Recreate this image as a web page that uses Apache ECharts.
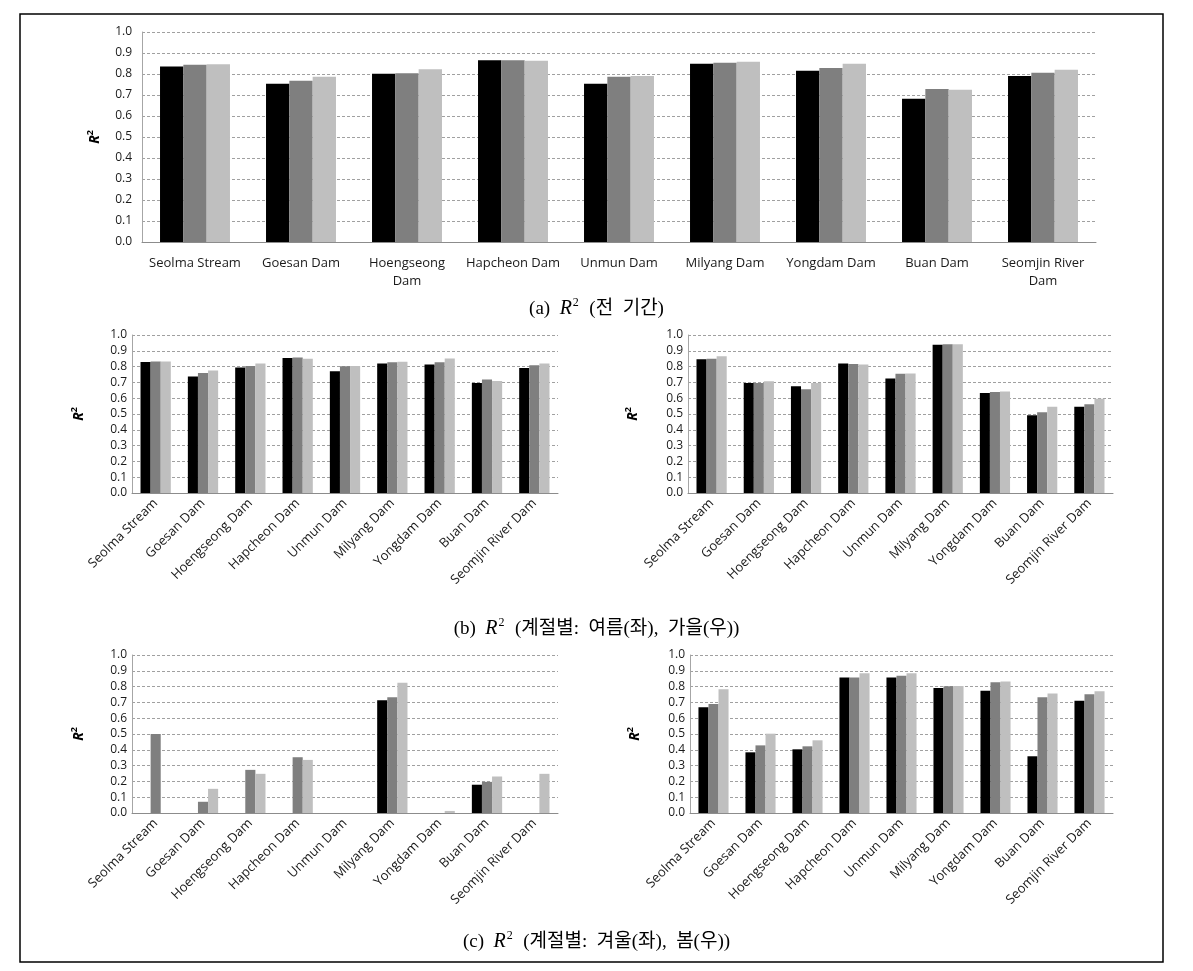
<!DOCTYPE html>
<html>
<head>
<meta charset="utf-8">
<script src="https://cdn.jsdelivr.net/npm/echarts@6/dist/echarts.min.js"></script>
<style>
html,body{margin:0;padding:0;background:#fff;}
#c{width:1193px;height:971px;}
</style>
</head>
<body>
<div id="c"></div>
<script>
// ---------- data ----------
const categories = ['Seolma Stream','Goesan Dam','Hoengseong Dam','Hapcheon Dam','Unmun Dam','Milyang Dam','Yongdam Dam','Buan Dam','Seomjin River Dam'];
const yTicks = [0,0.1,0.2,0.3,0.4,0.5,0.6,0.7,0.8,0.9,1.0];
// (a) whole period
const allS1 = [0.836,0.753,0.801,0.865,0.753,0.849,0.815,0.682,0.791];
const allS2 = [0.844,0.768,0.804,0.866,0.787,0.854,0.828,0.728,0.806];
const allS3 = [0.847,0.787,0.823,0.863,0.791,0.858,0.849,0.725,0.820];
// (b) summer (left)
const sumS1 = [0.829,0.738,0.795,0.854,0.770,0.819,0.814,0.696,0.791];
const sumS2 = [0.833,0.759,0.804,0.857,0.802,0.827,0.827,0.719,0.808];
const sumS3 = [0.833,0.776,0.819,0.850,0.804,0.831,0.852,0.709,0.819];
// (b) autumn (right)
const autS1 = [0.846,0.696,0.675,0.819,0.724,0.939,0.633,0.492,0.546];
const autS2 = [0.850,0.696,0.656,0.816,0.755,0.941,0.639,0.511,0.561];
const autS3 = [0.865,0.707,0.696,0.814,0.757,0.941,0.643,0.546,0.597];
// (c) winter (left)
const winS1 = [0,0,0,0,0,0.714,0,0.179,0];
const winS2 = [0.500,0.071,0.273,0.353,0,0.733,0,0.197,0];
const winS3 = [0,0.153,0.248,0.336,0,0.824,0.013,0.231,0.248];
// (c) spring (right)
const sprS1 = [0.669,0.384,0.403,0.857,0.857,0.791,0.774,0.359,0.711];
const sprS2 = [0.690,0.428,0.422,0.857,0.869,0.802,0.827,0.732,0.751];
const sprS3 = [0.783,0.502,0.460,0.884,0.884,0.804,0.833,0.757,0.770];

const captionA = ['(a)', '전  기간'];
const captionB = ['(b)', '계절별:  여름(좌),  가을(우)'];
const captionC = ['(c)', '계절별:  겨울(좌),  봄(우)'];

// ---------- styling ----------
const FONT = '"Open Sans", "DejaVu Sans", sans-serif';
const SERIF = '"Liberation Serif", "Noto Sans CJK KR", serif';
const COLORS = ['#000000', '#7f7f7f', '#bfbfbf'];

const panels = [
  {grid:{left:142, top:32, width:954, height:210}, data:[allS1,allS2,allS3], rotate:0, nameGap:38, gapCat:'34%', labelSize:13},
  {grid:{left:132, top:335, width:426, height:158}, data:[sumS1,sumS2,sumS3], rotate:45, nameGap:44, gapCat:'36%', labelSize:13},
  {grid:{left:688, top:335, width:425, height:158}, data:[autS1,autS2,autS3], rotate:45, nameGap:46, gapCat:'36%', labelSize:13},
  {grid:{left:132, top:655, width:426, height:158}, data:[winS1,winS2,winS3], rotate:45, nameGap:44, gapCat:'36%', labelSize:13},
  {grid:{left:690, top:655, width:423, height:158}, data:[sprS1,sprS2,sprS3], rotate:45, nameGap:46, gapCat:'36%', labelSize:13}
];

const grids = [], xAxes = [], yAxes = [], series = [];
panels.forEach((p, i) => {
  grids.push(Object.assign({containLabel:false}, p.grid));
  xAxes.push({
    type:'category', gridIndex:i, data:categories,
    axisLine:{show:true, lineStyle:{color:'#8c8c8c', width:1}},
    axisTick:{show:false},
    axisLabel:{
      interval:0, rotate:p.rotate, color:'#1a1a1a', fontFamily:FONT, fontSize:p.labelSize,
      margin: p.rotate ? 8 : 12, lineHeight:18,
      formatter: p.rotate ? (v => v) : (v => v.length > 13 ? v.replace(/ (\S+)$/, '\n$1') : v)
    }
  });
  yAxes.push({
    type:'value', gridIndex:i, min:0, max:1, interval:0.1,
    name:'{r|R}{s|2}', nameLocation:'middle', nameRotate:90, nameGap:p.nameGap,
    nameTextStyle:{
      rich:{
        r:{fontFamily:FONT, fontSize:14, fontWeight:'bold', fontStyle:'italic', color:'#000', lineHeight:18},
        s:{fontFamily:FONT, fontSize:9, fontWeight:'bold', color:'#000', verticalAlign:'top', lineHeight:9}
      }
    },
    axisLine:{show:true, lineStyle:{color:'#a6a6a6', width:1}},
    axisTick:{show:false},
    axisLabel:{color:'#1a1a1a', fontFamily:FONT, fontSize:12, margin: i===0 ? 10 : 5,
      formatter: v => { const t = yTicks.find(x => Math.abs(x - v) < 1e-9); return (t !== undefined ? t : v).toFixed(1); }},
    splitLine:{show:true, lineStyle:{color:'#a0a0a0', type:[3,2], width:1}}
  });
  p.data.forEach((arr, k) => {
    series.push({
      type:'bar', xAxisIndex:i, yAxisIndex:i, data:arr,
      barGap:'0%', barCategoryGap:p.gapCat,
      itemStyle:{color:COLORS[k]},
      silent:true, animation:false
    });
  });
});

function cap(parts, top){
  return {
    left:'center', top:top,
    text:'{p|' + parts[0] + '  }{r|R}{s|2}{p|  (' + parts[1] + ')}',
    textStyle:{
      fontWeight:'normal',
      rich:{
        p:{fontFamily:SERIF, fontSize:19, fontWeight:'normal', color:'#000', lineHeight:24},
        r:{fontFamily:SERIF, fontSize:20, fontStyle:'italic', fontWeight:'normal', color:'#000', lineHeight:24},
        s:{fontFamily:SERIF, fontSize:12, fontWeight:'normal', color:'#000', verticalAlign:'top', lineHeight:12, padding:[0,1,0,1]}
      }
    }
  };
}

const chart = echarts.init(document.getElementById('c'), null, {renderer:'canvas'});
chart.setOption({
  animation:false,
  backgroundColor:'#fff',
  title:[cap(captionA, 292), cap(captionB, 612), cap(captionC, 925)],
  grid:grids, xAxis:xAxes, yAxis:yAxes, series:series,
  graphic:[{
    type:'rect', shape:{x:20, y:14, width:1143, height:948},
    style:{fill:'none', stroke:'#000', lineWidth:1.5}, silent:true
  }]
});
</script>
</body>
</html>
